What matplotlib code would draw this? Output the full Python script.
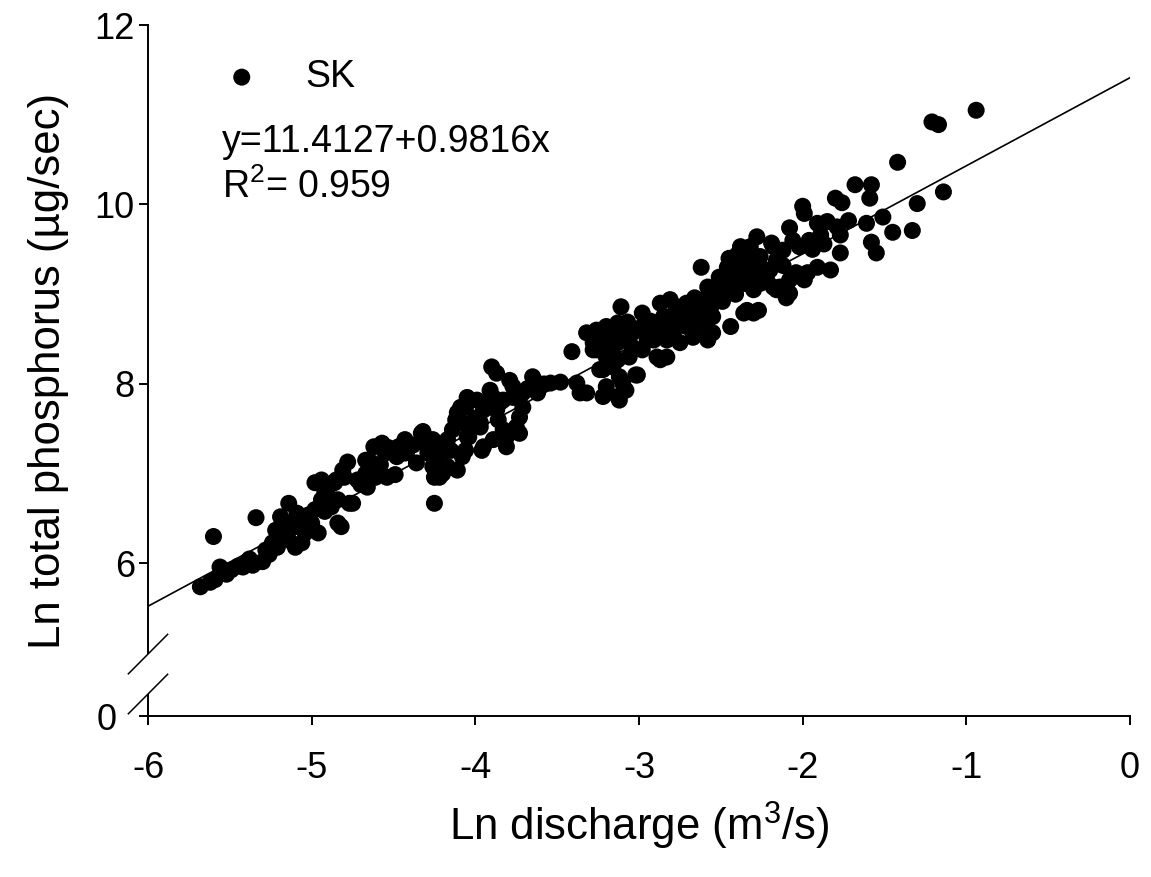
import matplotlib
matplotlib.use("Agg")
import matplotlib.pyplot as plt
import numpy as np

plt.rcParams['font.family'] = ['Liberation Sans', 'DejaVu Sans']
plt.rcParams['mathtext.fontset'] = 'custom'
plt.rcParams['mathtext.rm'] = 'Liberation Sans'
plt.rcParams['mathtext.it'] = 'Liberation Sans:italic'

# ---- data ----
ln_discharge = [
    -5.68, -5.62, -5.59, -5.56, -5.60, -5.49, -5.42, -5.36, -5.30, -5.34,
    -5.28, -5.24, -5.21, -5.22, -5.19, -5.14, -5.18, -5.14, -5.10, -5.06,
    -5.04, -5.08, -5.09, -5.02, -4.98, -4.96, -4.94, -4.92, -4.98, -4.94,
    -4.90, -4.86, -4.84, -4.88, -4.84, -4.82, -4.80, -4.81, -4.78, -4.75,
    -4.72, -4.67, -4.67, -4.63, -4.61, -4.66, -4.62, -4.57, -4.55, -4.51,
    -4.47, -4.43, -4.43, -4.54, -4.49, -4.33, -4.31, -4.29, -4.26, -4.25,
    -4.20, -4.23, -4.19, -4.17, -4.14, -4.12, -4.11, -4.06, -4.11, -4.06,
    -4.04, -4.02, -4.25, -4.77, -4.85, -4.53, -4.42, -4.48, -4.32, -4.26,
    -4.22, -4.17, -4.15, -4.08, -4.05, -5.45, -5.40, -5.26, -5.12,
    -4.08, -4.11, -4.09, -4.05, -3.99, -3.95, -3.97, -3.96, -3.89, -3.83,
    -3.81, -3.87, -3.83, -3.90, -3.87, -3.79, -3.77, -3.91, -3.89, -3.85,
    -3.77, -3.71, -3.64, -3.62, -3.54, -3.48, -3.38, -3.36, -3.71, -3.73,
    -3.75, -3.73, -3.81, -3.97, -3.95, -3.65, -3.41, -3.32,
    -3.26, -3.22, -3.20, -3.22, -3.13, -3.12, -3.08, -3.12, -3.02, -3.16,
    -3.13, -3.10, -3.10, -3.24, -3.16, -3.13, -3.20, -3.28, -3.22, -3.16,
    -3.10, -3.04, -2.98, -2.95, -3.06, -2.89, -3.32, -3.11, -3.01,
    -3.26, -3.20, -3.13, -3.07, -3.04, -2.98, -2.95, -2.91, -2.89, -2.87,
    -2.81, -2.77, -2.71, -2.67, -2.63, -2.58, -2.55, -2.55, -2.58, -2.67,
    -2.75, -2.79, -2.83, -2.87, -2.71, -2.63, -2.58, -2.51, -2.46, -2.43,
    -2.36, -2.32, -2.26, -2.20, -2.18, -2.32, -2.40, -2.46, -2.18, -2.87,
    -2.83, -2.62, -2.44, -2.36, -2.27, -2.30, -2.93, -2.85, -2.75, -2.69,
    -2.60, -2.50, -2.48, -2.52, -2.45, -2.42, -2.38, -2.38, -3.00, -2.92,
    -2.80, -2.73, -2.65, -2.56, -2.49, -2.41, -3.18, -3.05,
    -2.28, -2.19, -2.12, -2.16, -2.22, -2.34, -2.34, -2.08, -2.08, -2.14,
    -1.99, -1.91, -1.83, -1.97, -2.34, -2.36, -2.30, -2.26, -2.16, -2.10,
    -2.04, -2.08, -1.91, -1.85, -1.79, -1.77, -1.89, -1.96, -2.02, -2.06,
    -2.00, -1.99, -1.80, -1.76, -1.68, -1.58, -1.59, -1.61, -1.51, -1.45,
    -1.58, -1.55, -1.77, -1.42, -1.21, -1.17, -0.94, -1.14, -1.30, -1.33,
    -5.52, -5.38, -5.16, -5.00, -4.92, -4.70, -4.58, -4.38, -4.36, -4.28,
    -4.00, -3.93, -3.86, -3.68, -3.58, -3.28, -3.18, -3.08, -2.96, -2.90,
    -2.84, -2.78, -2.72, -2.66, -2.60, -2.54, -2.50, -2.44, -2.40, -2.30,
    -2.24, -2.12, -1.94, -1.87, -1.72,
]
ln_total_p = [
    5.74, 5.79, 5.82, 5.96, 6.30, 5.93, 5.96, 5.98, 6.02, 6.51,
    6.15, 6.23, 6.18, 6.37, 6.52, 6.67, 6.30, 6.26, 6.18, 6.23,
    6.34, 6.41, 6.56, 6.54, 6.60, 6.34, 6.71, 6.79, 6.90, 6.93,
    6.85, 6.90, 6.71, 6.63, 6.45, 6.41, 6.96, 7.04, 7.13, 6.67,
    6.93, 7.00, 7.15, 7.12, 6.96, 6.85, 7.30, 7.34, 7.23, 7.26,
    7.30, 7.38, 7.23, 6.96, 6.99, 7.45, 7.34, 7.23, 7.08, 6.96,
    7.00, 7.15, 7.26, 7.38, 7.49, 7.60, 7.68, 7.74, 7.04, 7.26,
    7.41, 7.52, 6.67, 6.67, 6.93, 7.29, 7.24, 7.19, 7.47, 7.38,
    6.96, 7.08, 7.26, 7.19, 7.41, 5.97, 6.00, 6.10, 6.40,
    7.57, 7.63, 7.74, 7.85, 7.82, 7.71, 7.57, 7.26, 7.38, 7.49,
    7.30, 7.71, 7.82, 8.19, 8.12, 8.04, 7.97, 7.93, 7.85, 7.79,
    7.85, 7.90, 8.04, 7.90, 8.01, 8.02, 8.01, 7.90, 7.74, 7.63,
    7.52, 7.45, 7.41, 7.52, 7.30, 8.08, 8.36, 7.90,
    8.38, 8.16, 7.97, 7.86, 7.86, 8.08, 7.93, 7.82, 8.10, 8.23,
    8.46, 8.52, 8.01, 8.16, 8.19, 8.27, 8.30, 8.38, 8.49, 8.41,
    8.49, 8.41, 8.38, 8.49, 8.30, 8.30, 8.57, 8.86, 8.10,
    8.60, 8.64, 8.68, 8.69, 8.57, 8.79, 8.60, 8.49, 8.68, 8.90,
    8.94, 8.86, 8.90, 8.75, 8.86, 8.97, 8.75, 8.57, 8.49, 8.52,
    8.46, 8.57, 8.49, 8.57, 8.64, 8.64, 9.08, 9.19, 9.30, 9.38,
    9.46, 9.53, 9.42, 9.27, 9.08, 9.24, 9.13, 9.08, 9.53, 8.27,
    8.30, 9.30, 8.64, 8.79, 8.82, 8.79, 8.70, 8.75, 8.72, 8.80,
    8.72, 9.05, 9.15, 8.95, 9.40, 9.22, 9.30, 9.53, 8.62, 8.58,
    8.66, 8.70, 8.80, 8.86, 8.92, 9.00, 8.52, 8.62,
    9.64, 9.57, 9.49, 9.38, 9.16, 9.35, 9.49, 9.16, 9.01, 9.08,
    9.16, 9.30, 9.27, 9.24, 8.82, 9.12, 9.05, 9.12, 9.05, 8.96,
    9.24, 9.74, 9.79, 9.81, 9.75, 9.66, 9.66, 9.60, 9.53, 9.60,
    9.98, 9.90, 10.07, 10.02, 10.22, 10.22, 10.07, 9.79, 9.86, 9.69,
    9.58, 9.46, 9.46, 10.47, 10.92, 10.89, 11.05, 10.14, 10.01, 9.71,
    5.88, 6.05, 6.45, 6.45, 6.58, 6.88, 7.10, 7.32, 7.12, 7.28,
    7.62, 7.78, 7.60, 7.95, 8.00, 8.46, 8.56, 8.62, 8.66, 8.58,
    8.64, 8.80, 8.78, 8.96, 8.90, 9.06, 9.12, 9.20, 9.44, 9.32,
    9.28, 9.32, 9.50, 9.56, 9.82,
]

series_name = 'SK'
intercept = 11.4127
slope = 0.9816
r_squared = 0.959

x_ticks = [-6, -5, -4, -3, -2, -1, 0]
x_tick_labels = ['-6', '-5', '-4', '-3', '-2', '-1', '0']
y_ticks = [6, 8, 10, 12]
y_tick_labels = ['6', '8', '10', '12']
# broken y axis: the "0" tick is drawn just below the break
y_zero_pos = 4.3
break_low, break_high = 4.55, 5.0

# ---- figure ----
W, H = 1151, 877
fig = plt.figure(figsize=(W / 100, H / 100), dpi=100)
ax = fig.add_axes([148 / W, 1 - 716 / H, (1130 - 148) / W, (716 - 25) / H])
ax.set_xlim(-6, 0)
ax.set_ylim(y_zero_pos, 12)

ax.scatter(ln_discharge, ln_total_p, s=150, c='black', edgecolors='none',
           zorder=3, label=series_name)
xl = np.array([-6.0, 0.0])
ax.plot(xl, intercept + slope * xl, color='black', lw=1.2, zorder=2)

lw = 1.4
for s in ['top', 'right']:
    ax.spines[s].set_visible(False)
ax.spines['bottom'].set_linewidth(lw)
ax.spines['left'].set_linewidth(lw)
ax.spines['left'].set_bounds(break_high, 12)
# lower segment of the broken y axis
ax.plot([-6, -6], [y_zero_pos, break_low], color='black', lw=lw,
        clip_on=False, zorder=4, solid_capstyle='butt')
# break marks
dx, dy = 0.12, 0.22
for yc in (break_high - 0.01, break_low - 0.005):
    ax.plot([-6 - dx, -6 + dx], [yc - dy, yc + dy], color='black', lw=1.1,
            clip_on=False, zorder=4)

ax.set_xticks(x_ticks)
ax.set_xticklabels(x_tick_labels)
ax.set_yticks([y_zero_pos] + y_ticks)
ax.set_yticklabels(['0'] + y_tick_labels)
ax.tick_params(axis='both', direction='out', length=6.5, width=lw,
               labelsize=26, colors='black')
ax.tick_params(axis='x', pad=19)
ax.tick_params(axis='y', pad=3)
ticks = ax.yaxis.get_major_ticks()
ticks[0].set_pad(16)

ax.set_xlabel('Ln discharge (m$^3$/s)', fontsize=31.5, labelpad=10)
ax.set_ylabel('Ln total phosphorus (\u00b5g/sec)', fontsize=31.5, labelpad=18)

leg = ax.legend(loc='center left', bbox_to_anchor=((223 - 148) / 982, (716 - 77) / 691),
                frameon=False, fontsize=27, handlelength=1.0, handletextpad=1.2,
                borderpad=0, borderaxespad=0, markerscale=1.0)

ax.text((222 - 148) / 982, (716 - 152) / 691, f'y={intercept}+{slope}x',
        transform=ax.transAxes, fontsize=27, va='baseline', ha='left')
ax.text((222 - 148) / 982, (716 - 198) / 691, f'R$^2$= {r_squared}',
        transform=ax.transAxes, fontsize=27, va='baseline', ha='left')

fig.savefig('out.png', dpi=100)
